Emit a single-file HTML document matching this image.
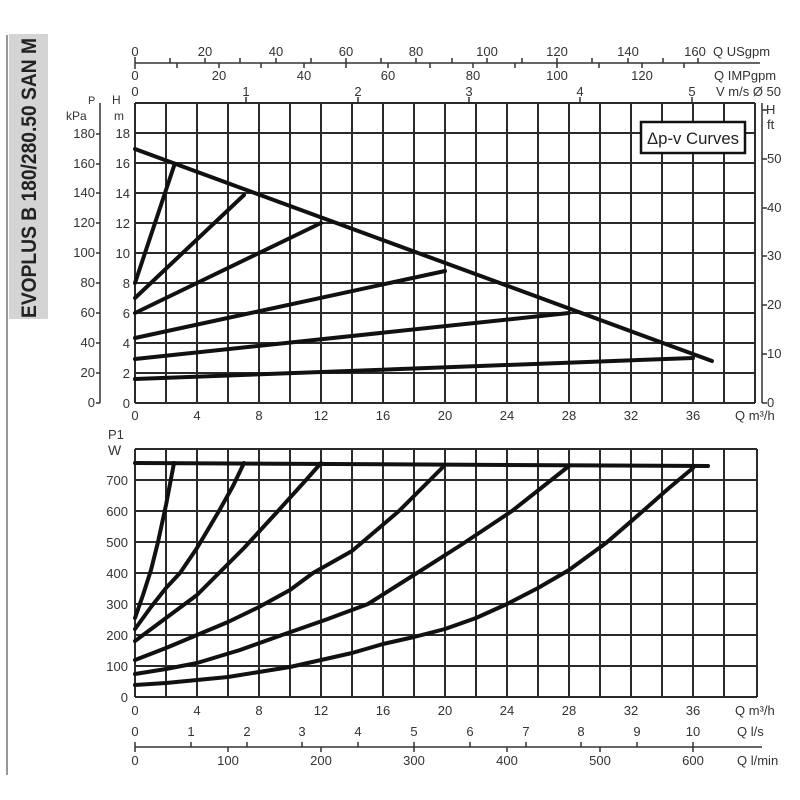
<!DOCTYPE html>
<html><head><meta charset="utf-8"><style>
html,body{margin:0;padding:0;background:#fff;}
svg{display:block;font-family:"Liberation Sans",sans-serif;}
</style></head><body>
<svg width="800" height="800" viewBox="0 0 800 800" xmlns="http://www.w3.org/2000/svg">
<rect width="800" height="800" fill="#fff"/>
<line x1="7" y1="35" x2="7" y2="775" stroke="#777" stroke-width="1.5"/>
<rect x="9" y="34" width="39" height="285" fill="#d4d4d4"/>
<text transform="translate(36,318) rotate(-90)" font-size="21" font-weight="bold" fill="#222" textLength="280" lengthAdjust="spacingAndGlyphs">EVOPLUS B 180/280.50 SAN M</text>

<g fill="#333" font-size="13">
<line x1="135" y1="63" x2="760" y2="63" stroke="#333" stroke-width="1.5"/>
<g stroke="#333" stroke-width="1.5">
<line x1="135" y1="57" x2="135" y2="69"/>
<line x1="170" y1="58" x2="170" y2="63"/><line x1="205" y1="58" x2="205" y2="63"/><line x1="240" y1="58" x2="240" y2="63"/><line x1="276" y1="58" x2="276" y2="63"/><line x1="311" y1="58" x2="311" y2="63"/><line x1="346" y1="58" x2="346" y2="63"/><line x1="381" y1="58" x2="381" y2="63"/><line x1="416" y1="58" x2="416" y2="63"/><line x1="452" y1="58" x2="452" y2="63"/><line x1="487" y1="58" x2="487" y2="63"/><line x1="522" y1="58" x2="522" y2="63"/><line x1="557" y1="58" x2="557" y2="63"/><line x1="592" y1="58" x2="592" y2="63"/><line x1="628" y1="58" x2="628" y2="63"/><line x1="663" y1="58" x2="663" y2="63"/><line x1="698" y1="58" x2="698" y2="63"/>
<line x1="177" y1="63" x2="177" y2="68"/><line x1="219" y1="63" x2="219" y2="68"/><line x1="261" y1="63" x2="261" y2="68"/><line x1="304" y1="63" x2="304" y2="68"/><line x1="346" y1="63" x2="346" y2="68"/><line x1="388" y1="63" x2="388" y2="68"/><line x1="430" y1="63" x2="430" y2="68"/><line x1="473" y1="63" x2="473" y2="68"/><line x1="515" y1="63" x2="515" y2="68"/><line x1="557" y1="63" x2="557" y2="68"/><line x1="599" y1="63" x2="599" y2="68"/><line x1="642" y1="63" x2="642" y2="68"/><line x1="684" y1="63" x2="684" y2="68"/>
<line x1="246" y1="97" x2="246" y2="103"/><line x1="358" y1="97" x2="358" y2="103"/><line x1="469" y1="97" x2="469" y2="103"/><line x1="580" y1="97" x2="580" y2="103"/><line x1="692" y1="97" x2="692" y2="103"/>
</g>
<g text-anchor="middle">
<text x="135" y="56">0</text><text x="205" y="56">20</text><text x="276" y="56">40</text><text x="346" y="56">60</text><text x="416" y="56">80</text><text x="487" y="56">100</text><text x="557" y="56">120</text><text x="628" y="56">140</text><text x="695" y="56">160</text>
<text x="135" y="80">0</text><text x="219" y="80">20</text><text x="304" y="80">40</text><text x="388" y="80">60</text><text x="473" y="80">80</text><text x="557" y="80">100</text><text x="642" y="80">120</text>
<text x="135" y="96">0</text><text x="246" y="96">1</text><text x="358" y="96">2</text><text x="469" y="96">3</text><text x="580" y="96">4</text><text x="692" y="96">5</text>
</g>
<text x="713" y="56">Q USgpm</text>
<text x="714" y="80">Q IMPgpm</text>
<text x="716" y="96">V m/s Ø 50</text>

<line x1="100" y1="103" x2="100" y2="403" stroke="#333" stroke-width="1.5"/>
<text x="88" y="104" font-size="11">P</text><text x="66" y="120" font-size="12">kPa</text>
<text x="112" y="104" font-size="12">H</text><text x="114" y="120" font-size="12">m</text>
<g text-anchor="end">
<text x="95" y="138">180</text><text x="95" y="168">160</text><text x="95" y="197">140</text><text x="95" y="227">120</text><text x="95" y="257">100</text><text x="95" y="287">80</text><text x="95" y="317">60</text><text x="95" y="347">40</text><text x="95" y="377">20</text><text x="95" y="407">0</text>
<text x="130" y="138">18</text><text x="130" y="168">16</text><text x="130" y="198">14</text><text x="130" y="228">12</text><text x="130" y="258">10</text><text x="130" y="288">8</text><text x="130" y="318">6</text><text x="130" y="348">4</text><text x="130" y="378">2</text><text x="130" y="408">0</text>
</g>
<g stroke="#333" stroke-width="1.5">
<line x1="100" y1="134" x2="96" y2="134"/><line x1="100" y1="164" x2="96" y2="164"/><line x1="100" y1="193" x2="96" y2="193"/><line x1="100" y1="223" x2="96" y2="223"/><line x1="100" y1="253" x2="96" y2="253"/><line x1="100" y1="283" x2="96" y2="283"/><line x1="100" y1="313" x2="96" y2="313"/><line x1="100" y1="343" x2="96" y2="343"/><line x1="100" y1="373" x2="96" y2="373"/><line x1="100" y1="403" x2="96" y2="403"/>
</g>
<line x1="762" y1="103" x2="762" y2="403" stroke="#333" stroke-width="1.5"/>
<g stroke="#333" stroke-width="1.5">
<line x1="762" y1="403" x2="767" y2="403"/><line x1="762" y1="354" x2="767" y2="354"/><line x1="762" y1="305" x2="767" y2="305"/><line x1="762" y1="256" x2="767" y2="256"/><line x1="762" y1="208" x2="767" y2="208"/><line x1="762" y1="159" x2="767" y2="159"/><line x1="762" y1="110" x2="767" y2="110"/>
</g>
<text x="766" y="114">H</text><text x="767" y="129">ft</text>
<text x="767" y="407">0</text><text x="767" y="358">10</text><text x="767" y="309">20</text><text x="767" y="260">30</text><text x="767" y="212">40</text><text x="767" y="163">50</text>

<g text-anchor="middle">
<text x="135" y="420">0</text><text x="197" y="420">4</text><text x="259" y="420">8</text><text x="321" y="420">12</text><text x="383" y="420">16</text><text x="445" y="420">20</text><text x="507" y="420">24</text><text x="569" y="420">28</text><text x="631" y="420">32</text><text x="693" y="420">36</text>
</g>
<text x="735" y="420">Q m³/h</text>
</g>

<g stroke="#2a2a2a" stroke-width="2">
<path d="M135 103V403M166 103V403M197 103V403M228 103V403M259 103V403M290 103V403M321 103V403M352 103V403M383 103V403M414 103V403M445 103V403M476 103V403M507 103V403M538 103V403M569 103V403M600 103V403M631 103V403M662 103V403M693 103V403M724 103V403M755 103V403"/>
<path d="M135 103H755M135 133H755M135 163H755M135 193H755M135 223H755M135 253H755M135 283H755M135 313H755M135 343H755M135 373H755M135 403H755"/>
</g>
<g stroke="#111" stroke-width="4" fill="none" stroke-linecap="round">
<line x1="135" y1="149" x2="712" y2="361"/>
<line x1="135" y1="283" x2="174" y2="166"/>
<line x1="135" y1="298" x2="244" y2="195"/>
<line x1="135" y1="313" x2="321" y2="223"/>
<line x1="135" y1="338" x2="445" y2="271"/>
<line x1="135" y1="359" x2="569" y2="313"/>
<line x1="135" y1="379" x2="693" y2="358"/>
</g>
<rect x="641" y="122" width="104" height="31" fill="#fff" stroke="#111" stroke-width="2.5"/>
<text x="693" y="144" text-anchor="middle" font-size="17" fill="#222" textLength="92" lengthAdjust="spacingAndGlyphs">Δp-v Curves</text>

<g stroke="#2a2a2a" stroke-width="2">
<path d="M135 449V697M166 449V697M197 449V697M228 449V697M259 449V697M290 449V697M321 449V697M352 449V697M383 449V697M414 449V697M445 449V697M476 449V697M507 449V697M538 449V697M569 449V697M600 449V697M631 449V697M662 449V697M693 449V697M724 449V697M757 449V697"/>
<path d="M135 449H757M135 480H757M135 511H757M135 542H757M135 573H757M135 604H757M135 635H757M135 666H757M135 697H757"/>
</g>
<g stroke="#111" stroke-width="4" fill="none" stroke-linecap="round" stroke-linejoin="round">
<line x1="135" y1="463" x2="708" y2="466"/>
<polyline points="135,618 143,595 151,570 158,542 166,505 174,463"/>
<polyline points="135,629 151,607 166,588 180,573 197,548 219,511 233,486 244,463"/>
<polyline points="135,641 166,618 197,595 219,573 244,548 278,511 306,480 321,463"/>
<polyline points="135,660 166,648 197,635 228,622 259,607 290,590 313,573 352,551 399,511 445,465"/>
<polyline points="135,674 166,669 197,663 240,650 282,635 325,620 368,604 417,573 461,545 512,511 569,466"/>
<polyline points="135,685 166,683 197,680 228,677 259,672 290,667 321,660 352,653 383,644 414,637 445,629 476,618 507,604 538,588 569,570 606,543 643,511 669,488 693,468"/>
</g>
<g fill="#333" font-size="13">
<text x="108" y="439">P1</text><text x="108" y="455" font-size="14">W</text>
<g text-anchor="end">
<text x="128" y="485">700</text><text x="128" y="516">600</text><text x="128" y="547">500</text><text x="128" y="578">400</text><text x="128" y="609">300</text><text x="128" y="640">200</text><text x="128" y="671">100</text><text x="128" y="702">0</text>
</g>
<g text-anchor="middle">
<text x="135" y="715">0</text><text x="197" y="715">4</text><text x="259" y="715">8</text><text x="321" y="715">12</text><text x="383" y="715">16</text><text x="445" y="715">20</text><text x="507" y="715">24</text><text x="569" y="715">28</text><text x="631" y="715">32</text><text x="693" y="715">36</text>
<text x="135" y="736">0</text><text x="191" y="736">1</text><text x="247" y="736">2</text><text x="302" y="736">3</text><text x="358" y="736">4</text><text x="414" y="736">5</text><text x="470" y="736">6</text><text x="526" y="736">7</text><text x="581" y="736">8</text><text x="637" y="736">9</text><text x="693" y="736">10</text>
<text x="135" y="765">0</text><text x="228" y="765">100</text><text x="321" y="765">200</text><text x="414" y="765">300</text><text x="507" y="765">400</text><text x="600" y="765">500</text><text x="693" y="765">600</text>
</g>
<text x="735" y="715">Q m³/h</text>
<text x="737" y="736">Q l/s</text>
<text x="737" y="765">Q l/min</text>
<line x1="135" y1="747" x2="762" y2="747" stroke="#333" stroke-width="1.5"/>
<g stroke="#333" stroke-width="1.5">
<path d="M135 742V752M191 742V747M247 742V747M302 742V747M358 742V747M414 742V747M470 742V747M526 742V747M581 742V747M637 742V747M693 742V747M228 747V752M321 747V752M414 747V752M507 747V752M600 747V752M693 747V752"/>
</g>
</g>
</svg>
</body></html>
